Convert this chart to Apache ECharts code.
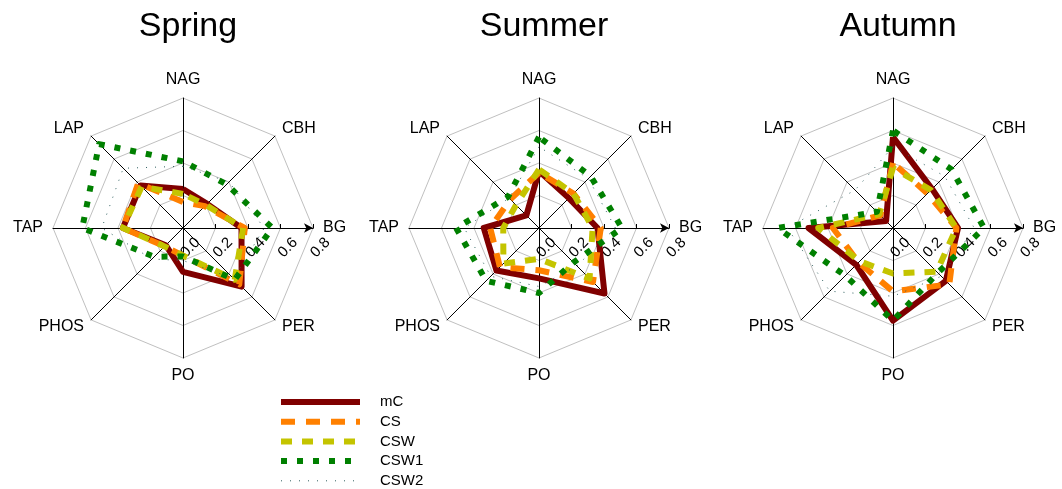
<!DOCTYPE html>
<html>
<head>
<meta charset="utf-8">
<script src="https://cdn.jsdelivr.net/npm/echarts@6/dist/echarts.min.js"></script>
<style>
  html, body { margin: 0; padding: 0; background: #fff; }
  #chart { width: 1062px; height: 489px; }
</style>
</head>
<body>
<div id="chart"></div>
<script>
// Enzymes, listed clockwise starting at the top of each radar
const enzymes = ['NAG', 'CBH', 'BG', 'PER', 'PO', 'PHOS', 'TAP', 'LAP'];
const seasons = ['Spring', 'Summer', 'Autumn'];
const treatments = ['mC', 'CS', 'CSW', 'CSW1', 'CSW2'];
const radialTicks = [0, 0.2, 0.4, 0.6, 0.8];

// Relative enzyme activities (same enzyme order as above)
const springMC   = [0.24, 0.21, 0.36, 0.51, 0.27, 0.15, 0.37, 0.37];
const springCS   = [0.16, 0.19, 0.38, 0.49, 0.17, 0.16, 0.37, 0.39];
const springCSW  = [0.21, 0.20, 0.37, 0.45, 0.17, 0.16, 0.37, 0.36];
const springCSW1 = [0.41, 0.38, 0.55, 0.45, 0.175, 0.25, 0.62, 0.73];
const springCSW2 = [0.38, 0.40, 0.50, 0.44, 0.20, 0.27, 0.50, 0.52];

const summerMC   = [0.35, 0.26, 0.36, 0.57, 0.31, 0.37, 0.34, 0.11];
const summerCS   = [0.34, 0.30, 0.38, 0.47, 0.26, 0.34, 0.30, 0.25];
const summerCSW  = [0.36, 0.30, 0.33, 0.44, 0.19, 0.31, 0.22, 0.20];
const summerCSW1 = [0.56, 0.45, 0.51, 0.30, 0.40, 0.46, 0.51, 0.27];
const summerCSW2 = [0.50, 0.43, 0.47, 0.33, 0.36, 0.42, 0.46, 0.26];

const autumnMC   = [0.56, 0.34, 0.40, 0.46, 0.57, 0.32, 0.52, 0.06];
const autumnCS   = [0.40, 0.30, 0.39, 0.49, 0.39, 0.30, 0.37, 0.11];
const autumnCSW  = [0.37, 0.33, 0.39, 0.38, 0.28, 0.29, 0.46, 0.12];
const autumnCSW1 = [0.60, 0.51, 0.56, 0.39, 0.57, 0.415, 0.71, 0.14];
const autumnCSW2 = [0.50, 0.45, 0.50, 0.42, 0.42, 0.55, 0.65, 0.33];

const seasonData = [
  [springMC, springCS, springCSW, springCSW1, springCSW2],
  [summerMC, summerCS, summerCSW, summerCSW1, summerCSW2],
  [autumnMC, autumnCS, autumnCSW, autumnCSW1, autumnCSW2]
];

// Layout and styling
const FONT = "'Liberation Sans', Arial, sans-serif";
const centersX = [183, 539, 893];
const centerY = 228;
const R = 130;
const lineStyles = [
  { color: '#800000', width: 6, type: 'solid' },
  { color: '#ff8000', width: 6, type: [14, 11] },
  { color: '#c4c400', width: 6, type: [11, 10] },
  { color: '#008000', width: 6, type: [6, 10] },
  { color: '#2f5f5f', width: 1, type: [1, 8] }
];

// ECharts lays radar indicators out counter-clockwise; reorder the clockwise list.
const ccwOrder = [0, 7, 6, 5, 4, 3, 2, 1];
const rMax = radialTicks[radialTicks.length - 1];
const rStep = radialTicks[1] - radialTicks[0];

const radar = centersX.map(cx => ({
  center: [cx, centerY],
  radius: R,
  startAngle: 90,
  shape: 'polygon',
  splitNumber: radialTicks.length - 1,
  indicator: ccwOrder.map(k => ({ name: enzymes[k], min: 0, max: rMax })),
  nameGap: 10,
  axisName: { color: '#000', fontSize: 16, fontFamily: FONT },
  axisLine: { lineStyle: { color: '#000', width: 1 } },
  splitLine: { lineStyle: { color: '#c0c0c0', width: 1 } },
  splitArea: { show: false },
  axisTick: { show: false },
  axisLabel: { show: false }
}));

// A polar overlay supplies the labelled value axis along BG
const polar = centersX.map(cx => ({ center: [cx, centerY], radius: R }));
const angleAxis = centersX.map((cx, i) => ({
  polarIndex: i, type: 'value', startAngle: 0, min: 0, max: 360, show: false
}));
const radiusAxis = centersX.map((cx, i) => ({
  polarIndex: i, type: 'value', min: 0, max: rMax, interval: rStep,
  axisLine: { show: true, lineStyle: { color: '#000', width: 1 }, symbol: ['none', 'arrow'], symbolSize: [7, 9] },
  axisTick: { show: true, length: 4, lineStyle: { color: '#000' } },
  axisLabel: {
    show: true, rotate: 45, align: 'left', verticalAlign: 'middle', margin: -27,
    fontSize: 15, color: '#000', fontFamily: FONT,
    formatter: v => v.toFixed(1)
  },
  splitLine: { show: false }
}));

const series = [];
seasonData.forEach((groups, s) => {
  groups.forEach((vals, t) => {
    series.push({
      type: 'radar',
      radarIndex: s,
      name: treatments[t],
      symbol: 'none',
      silent: true,
      lineStyle: lineStyles[t],
      data: [{ value: ccwOrder.map(k => vals[k]), name: treatments[t] }]
    });
  });
});

const title = seasons.map((name, i) => ({
  text: name,
  left: centersX[i],
  top: 5,
  textAlign: 'center',
  textStyle: { fontSize: 34, fontWeight: 'normal', color: '#000', fontFamily: FONT }
}));

// Key drawn beneath the radars
const keyTop = 402, keyStep = 19.7;
const graphic = [];
treatments.forEach((name, i) => {
  const ls = lineStyles[i];
  const y = keyTop + i * keyStep;
  graphic.push({
    type: 'line', silent: true,
    shape: { x1: 281, y1: y, x2: 360, y2: y },
    style: { stroke: ls.color, lineWidth: ls.width, lineDash: ls.type === 'solid' ? null : ls.type }
  });
  graphic.push({
    type: 'text', silent: true, x: 380, y: y,
    style: { text: name, fill: '#000', font: '15px ' + FONT, verticalAlign: 'middle', align: 'left' }
  });
});

const chart = echarts.init(document.getElementById('chart'));
chart.setOption({
  animation: false,
  backgroundColor: '#fff',
  title, radar, polar, angleAxis, radiusAxis, series, graphic
});
</script>
</body>
</html>
